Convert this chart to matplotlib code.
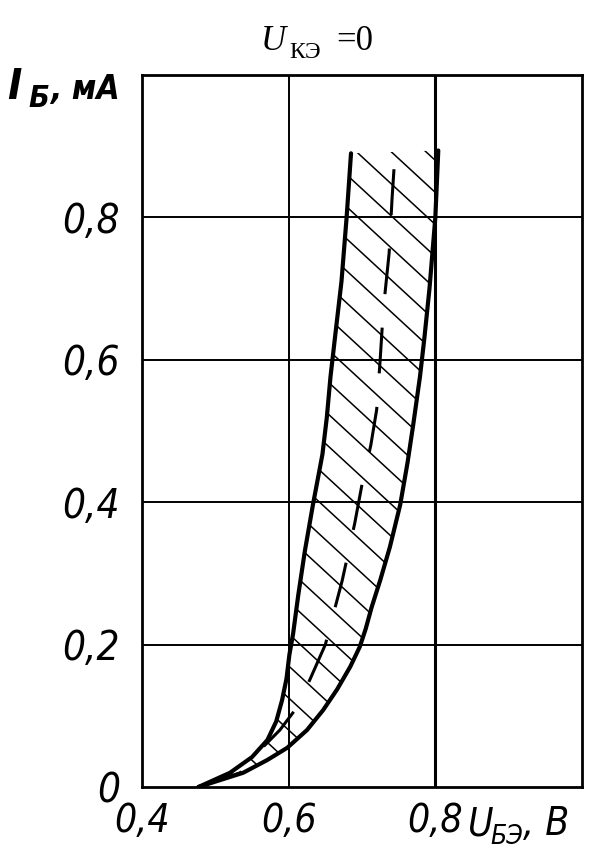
import matplotlib.pyplot as plt
import numpy as np
from matplotlib.patches import Polygon

# Input characteristic I_B(U_BE) at U_CE = 0, spread band
left_u = [0.477, 0.52, 0.55, 0.571, 0.583, 0.591, 0.597, 0.601, 0.606, 0.613,
          0.622, 0.633, 0.646, 0.652, 0.657, 0.663, 0.672, 0.679, 0.685]
left_i = [0.0, 0.02, 0.042, 0.066, 0.092, 0.122, 0.152, 0.186, 0.215, 0.269,
          0.331, 0.396, 0.467, 0.519, 0.576, 0.63, 0.71, 0.80, 0.89]

right_u = [0.477, 0.538, 0.571, 0.598, 0.625, 0.647, 0.666, 0.684, 0.697, 0.705,
           0.713, 0.725, 0.738, 0.752, 0.762, 0.770, 0.779, 0.785, 0.792, 0.800, 0.804]
right_i = [0.0, 0.02, 0.038, 0.055, 0.08, 0.108, 0.137, 0.169, 0.197, 0.222,
           0.252, 0.291, 0.337, 0.396, 0.455, 0.51, 0.576, 0.63, 0.70, 0.80, 0.894]

mid_u = [0.477, 0.534, 0.564, 0.588, 0.610, 0.629, 0.65, 0.673, 0.69, 0.70,
         0.712, 0.72, 0.725, 0.729, 0.737, 0.741, 0.745]
mid_i = [0.0, 0.02, 0.055, 0.08, 0.110, 0.151, 0.2, 0.29, 0.37, 0.425,
         0.48, 0.53, 0.604, 0.67, 0.75, 0.827, 0.89]

x_ticks = [0.4, 0.6, 0.8]
x_labels = ["0,4", "0,6", "0,8"]
y_ticks = [0.0, 0.2, 0.4, 0.6, 0.8]
y_labels = ["0", "0,2", "0,4", "0,6", "0,8"]

num_font = dict(family='DejaVu Sans', style='italic', stretch='condensed')

fig = plt.figure(figsize=(6.02, 8.6), dpi=100)
ax = fig.add_axes([0.2359, 0.0849, 0.7309, 0.8279])
ax.set_xlim(0.4, 1.0)
ax.set_ylim(0.0, 1.0)

# grid
for x in [0.6, 0.8]:
    ax.axvline(x, color='black', lw=1.4 if x == 0.6 else 2.2, zorder=1)
for y in [0.2, 0.4, 0.6, 0.8]:
    ax.axhline(y, color='black', lw=1.4, zorder=1)
for s in ax.spines.values():
    s.set_linewidth(2.0)

# band outline
band = Polygon(np.column_stack([left_u + right_u[::-1], left_i + right_i[::-1]]),
               closed=True, facecolor='none', edgecolor='none')
ax.add_patch(band)

# diagonal hatching clipped to the band
uu = np.array([0.4, 1.0])
for c in np.arange(0.0, 1.6, 0.045):
    ln, = ax.plot(uu, c - 0.95 * (uu - 0.4), color='black', lw=1.1, zorder=2)
    ln.set_clip_path(band)

ax.plot(left_u, left_i, color='black', lw=3.0, solid_capstyle='round',
        solid_joinstyle='round', zorder=3)
ax.plot(right_u, right_i, color='black', lw=3.0, solid_capstyle='round',
        solid_joinstyle='round', zorder=3)
ax.plot(mid_u, mid_i, color='black', lw=2.2, linestyle=(0, (15, 11)), zorder=3)

ax.set_xticks(x_ticks)
ax.set_xticklabels(x_labels, fontsize=28, **num_font)
ax.set_yticks(y_ticks)
ax.set_yticklabels(y_labels, fontsize=29, **num_font)
ax.tick_params(length=0, pad=11)
ax.tick_params(axis='y', pad=16)

# axis titles
fig.text(0.012, 0.885, "I", weight='bold', fontsize=31, **num_font)
fig.text(0.048, 0.876, "Б", weight='bold', fontsize=22, **num_font)
fig.text(0.083, 0.885, ", мА", weight='bold', fontsize=24, **num_font)

fig.text(0.778, 0.029, "U", fontsize=28, **num_font)
fig.text(0.814, 0.019, "БЭ", fontsize=19, **num_font)
fig.text(0.869, 0.029, ", В", fontsize=28, **num_font)

fig.text(0.434, 0.942, "U", family='Liberation Serif', style='italic', fontsize=25)
fig.text(0.480, 0.932, "КЭ", family='Liberation Serif', fontsize=17)
fig.text(0.558, 0.942, "=0", family='Liberation Serif', fontsize=25)

fig.savefig("out.png", dpi=100)
